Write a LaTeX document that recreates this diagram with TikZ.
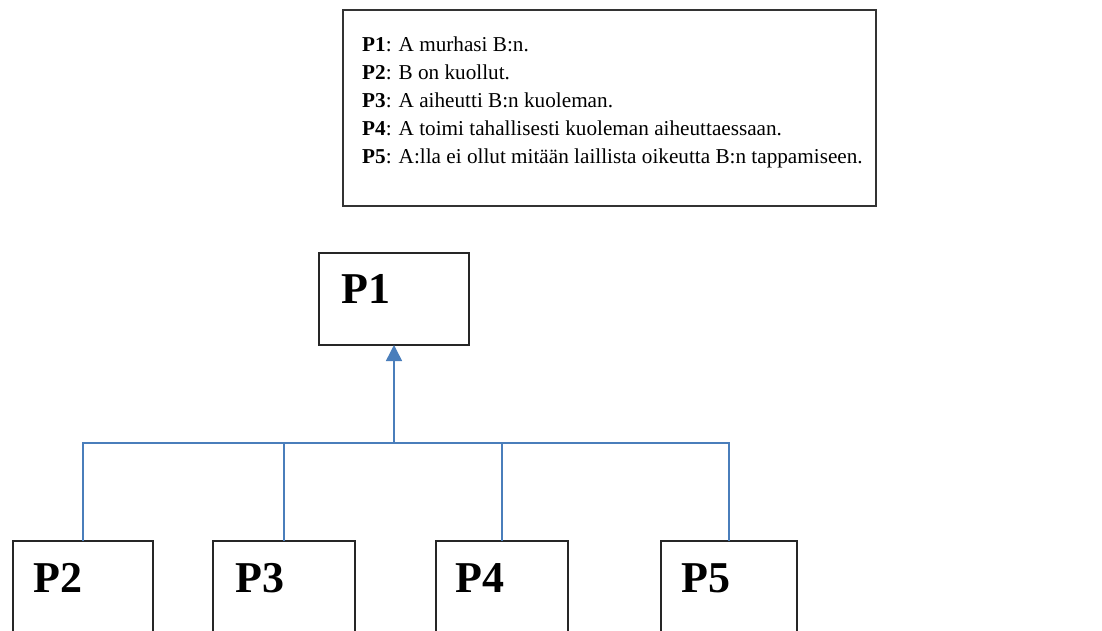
\documentclass[tikz,border=0pt]{standalone}
\usepackage{fontspec}
\setmainfont{Liberation Serif}
\usetikzlibrary{arrows.meta,fit}
\definecolor{connblue}{RGB}{74,126,187}
\begin{document}
\begin{tikzpicture}[x=1pt,y=1pt,
  legline/.style={font=\fontsize{21.2}{28}\selectfont, anchor=base west, inner sep=0pt},
  plabel/.style={font=\fontsize{44}{50}\selectfont\bfseries, anchor=base west, inner sep=0pt},
  pbox/.style={draw=black!85, line width=1.2pt, inner sep=0pt, outer sep=0pt},
  connline/.style={draw=connblue, line width=1.5pt},
  ]
\useasboundingbox (0,0) rectangle (1102,-630);
\clip (0,0) rectangle (1102,-630);
\fill[white] (0,0) rectangle (1102,-630);

% legend text
\node[legline] (l1) at (362,-51)  {\textbf{P1}: A murhasi B:n.};
\node[legline] (l2) at (362,-79)  {\textbf{P2}: B on kuollut.};
\node[legline] (l3) at (362,-107) {\textbf{P3}: A aiheutti B:n kuoleman.};
\node[legline] (l4) at (362,-135) {\textbf{P4}: A toimi tahallisesti kuoleman aiheuttaessaan.};
\node[legline] (l5) at (362,-163) {\textbf{P5}: A:lla ei ollut mitään laillista oikeutta B:n tappamiseen.};
\path (l5.east) ++(13,0) coordinate (lr);
\node[draw=black!80, line width=1.3pt, inner sep=0pt, fit={(343,-10) (lr |- 0,-206)}] (legend) {};

% boxes
\node[pbox, minimum width=150pt, minimum height=92pt] (b1) at (394,-299) {};
\node[pbox, minimum width=140pt, minimum height=140pt] (b2) at (83,-611) {};
\node[pbox, minimum width=142pt, minimum height=140pt] (b3) at (284,-611) {};
\node[pbox, minimum width=132pt, minimum height=140pt] (b4) at (502,-611) {};
\node[pbox, minimum width=136pt, minimum height=140pt] (b5) at (729,-611) {};

\node[plabel] (t1) at (341,-303) {P1};
\node[plabel] (t2) at (33,-592) {P2};
\node[plabel] (t3) at (235,-592) {P3};
\node[plabel] (t4) at (455,-592) {P4};
\node[plabel] (t5) at (681,-592) {P5};

% connectors
\coordinate (bus) at (394,-443);
\draw[connline] (b2.north) |- (bus);
\draw[connline] (b3.north) |- (bus);
\draw[connline] (b4.north) |- (bus);
\draw[connline] (b5.north) |- (bus);
\draw[connline, -{Triangle[width=16pt,length=16pt]}, fill=connblue] (bus) -- (b1.south);
\end{tikzpicture}
\end{document}
